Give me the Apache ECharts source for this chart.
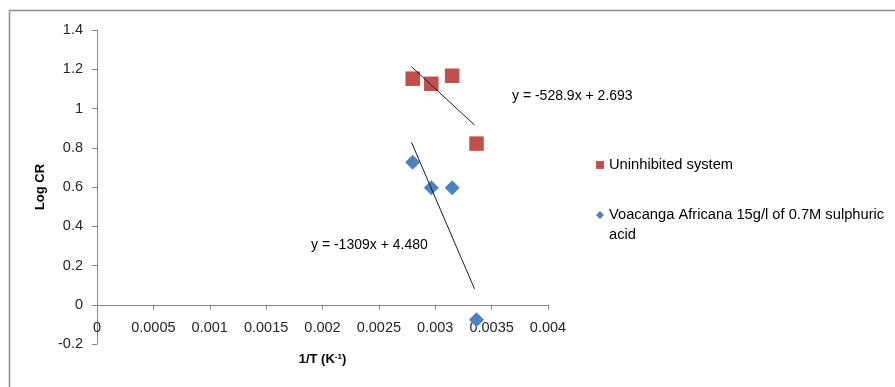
<!DOCTYPE html>
<html>
<head>
<meta charset="utf-8">
<script src="https://cdn.jsdelivr.net/npm/echarts@6/dist/echarts.min.js"></script>
<style>html,body{margin:0;padding:0;background:#fff;}#c{width:895px;height:387px;}</style>
</head>
<body>
<div id="c"></div>
<script>
// Data
var invT = [0.0028, 0.002965, 0.00315, 0.003366];
var uninhibited = [1.152, 1.126, 1.167, 0.821];
var voacanga = [0.726, 0.596, 0.596, -0.076];
var trendUninhibited = [[0.002789, 1.213], [0.003348, 0.916]];
var trendVoacanga = [[0.002789, 0.828], [0.003348, 0.081]];
var eqUninhibited = 'y = -528.9x + 2.693';
var eqVoacanga = 'y = -1309x + 4.480';
var seriesNames = ['Uninhibited system', 'Voacanga Africana 15g/l of 0.7M sulphuric acid'];
var legendLines = [['Uninhibited system'], ['Voacanga Africana 15g/l of 0.7M sulphuric', 'acid']];
var xTicks = ['0', '0.0005', '0.001', '0.0015', '0.002', '0.0025', '0.003', '0.0035', '0.004'];
var yTicks = ['-0.2', '0', '0.2', '0.4', '0.6', '0.8', '1', '1.2', '1.4'];

function pairs(xs, ys) { return xs.map(function (x, i) { return [x, ys[i]]; }); }

var FONT = 'Liberation Sans';
var GRID_TOP = 30, GRID_BOTTOM = 43, H = 387;
var plotH = H - GRID_TOP - GRID_BOTTOM;
var zeroOffset = -plotH * (0 - (-0.2)) / (1.4 - (-0.2));

var chart = echarts.init(document.getElementById('c'), null, { renderer: 'canvas' });
chart.setOption({
  animation: false,
  backgroundColor: '#ffffff',
  grid: { left: 97, right: 347, top: GRID_TOP, bottom: GRID_BOTTOM, containLabel: false, outerBoundsMode: 'none' },
  xAxis: {
    type: 'value', min: 0, max: 0.004, interval: 0.0005,
    offset: zeroOffset,
    name: '{a|1/T (K}{s|-1}{a|)}', nameLocation: 'middle', nameGap: 48,
    nameTextStyle: { rich: {
      a: { fontFamily: FONT, fontWeight: 'bold', fontSize: 13, color: '#000' },
      s: { fontFamily: FONT, fontWeight: 'bold', fontSize: 8, color: '#000', verticalAlign: 'top', padding: [0, 0, 6, 0] }
    } },
    axisLine: { onZero: false, lineStyle: { color: '#868686', width: 1 } },
    axisTick: { show: true, length: 5, lineStyle: { color: '#868686' } },
    axisLabel: { margin: 16, fontFamily: FONT, fontSize: 14.5, color: '#262626',
      formatter: function (v) { var i = Math.round(v / 0.0005); return xTicks[i] !== undefined ? xTicks[i] : ''; } },
    splitLine: { show: false }
  },
  yAxis: {
    type: 'value', min: -0.2, max: 1.4, interval: 0.2,
    name: 'Log CR', nameLocation: 'middle', nameGap: 50, nameRotate: 90,
    nameTextStyle: { fontFamily: FONT, fontWeight: 'bold', fontSize: 13, color: '#000' },
    axisLine: { show: true, onZero: false, lineStyle: { color: '#868686', width: 1 } },
    axisTick: { show: true, length: 5, lineStyle: { color: '#868686' } },
    axisLabel: { margin: 14, fontFamily: FONT, fontSize: 14.5, color: '#262626',
      formatter: function (v) { var i = Math.round((v + 0.2) / 0.2); return yTicks[i] !== undefined ? yTicks[i] : ''; } },
    splitLine: { show: false }
  },
  legend: {
    orient: 'vertical', left: 591, top: 150, itemWidth: 8, itemHeight: 8, itemGap: 10,
    textStyle: { fontFamily: FONT, fontSize: 14.7, color: '#000', lineHeight: 20,
      rich: {
        t: { fontFamily: FONT, fontSize: 14.7, color: '#000', lineHeight: 20 },
        sp: { fontFamily: FONT, fontSize: 14.7, lineHeight: 20 }
      } },
    formatter: function (name) {
      var idx = seriesNames.indexOf(name);
      var lines = legendLines[idx];
      if (lines.length === 1) return '{t|' + lines[0] + '}';
      return '{sp| }\n' + lines.map(function (l) { return '{t|' + l + '}'; }).join('\n');
    },
    data: [
      { name: seriesNames[0], icon: 'rect' },
      { name: seriesNames[1], icon: 'diamond' }
    ]
  },
  series: [
    { name: seriesNames[0], type: 'scatter', symbol: 'rect', symbolSize: 14.5,
      itemStyle: { color: '#c0504d', opacity: 1 }, data: pairs(invT, uninhibited), z: 3 },
    { name: seriesNames[1], type: 'scatter', symbol: 'diamond', symbolSize: [15, 15],
      itemStyle: { color: '#4f81bd', opacity: 1 }, data: pairs(invT, voacanga), z: 3 },
    { name: 'trend1', type: 'line', data: trendUninhibited, symbol: 'none', silent: true,
      lineStyle: { color: '#1a1a1a', width: 1 }, z: 4 },
    { name: 'trend2', type: 'line', data: trendVoacanga, symbol: 'none', silent: true,
      lineStyle: { color: '#1a1a1a', width: 1 }, z: 4 }
  ],
  graphic: [
    { type: 'rect', left: 7, top: 8, shape: { width: 1000, height: 1000 }, silent: true,
      style: { fill: 'none', stroke: '#8c8c8c', lineWidth: 1.5 }, z: -10 },
    { type: 'text', left: 512, top: 89, style: { text: eqUninhibited, font: '14px "Liberation Sans"', fill: '#000' } },
    { type: 'text', left: 311, top: 238, style: { text: eqVoacanga, font: '14px "Liberation Sans"', fill: '#000' } }
  ]
});
</script>
</body>
</html>
